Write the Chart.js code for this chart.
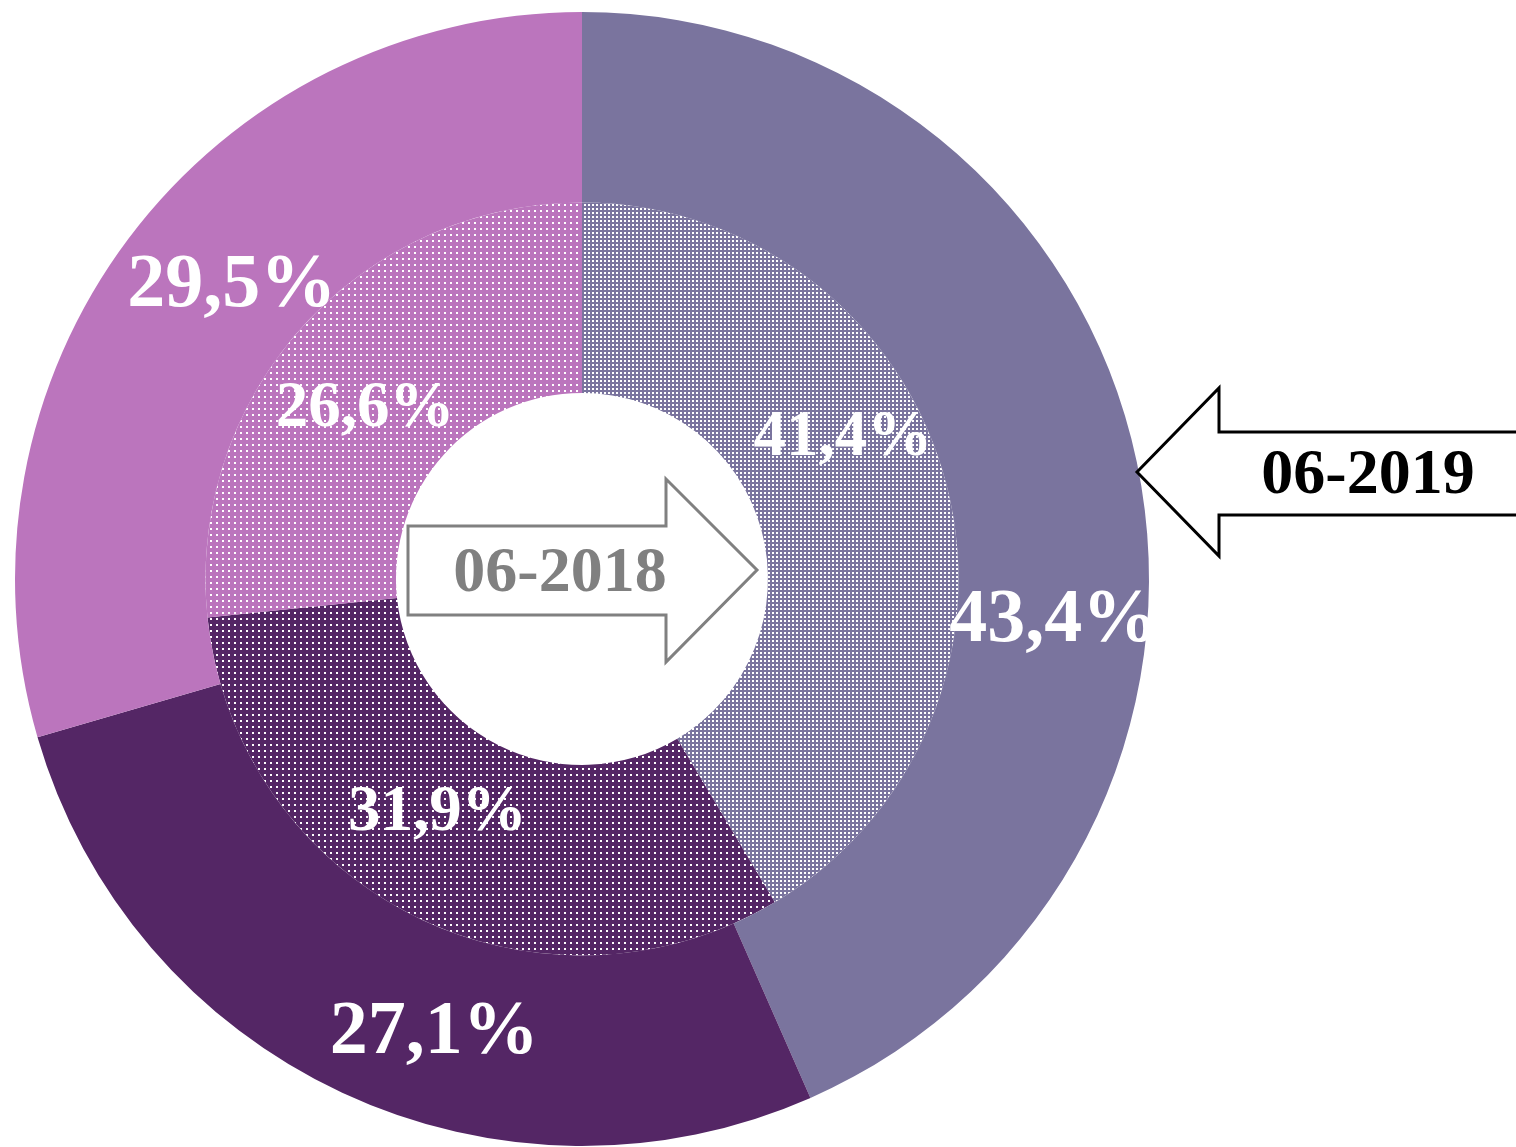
<!DOCTYPE html>
<html>
<head>
<meta charset="utf-8">
<script src="https://cdn.jsdelivr.net/npm/chart.js@4/dist/chart.umd.min.js"></script>
<style>
html,body{margin:0;padding:0;background:#fff;}
#wrap{position:relative;width:1516px;height:1147px;}
</style>
</head>
<body>
<div id="wrap"><canvas id="c" width="1516" height="1147"></canvas></div>
<script>
// ---- data ----
const categories = ['A', 'B', 'C'];
const periods = ['06-2019', '06-2018'];
const values2019 = [43.4, 27.1, 29.5];
const values2018 = [41.4, 31.9, 26.6];
const labels2019 = ['43,4%', '27,1%', '29,5%'];
const labels2018 = ['41,4%', '31,9%', '26,6%'];

// ---- styles ----
const baseColors = ['#7A749E', '#542665', '#BB75BD'];
const FONT = '"Liberation Serif", "Times New Roman", serif';

function dotPattern(color, period, dot) {
  const c = document.createElement('canvas');
  c.width = period; c.height = period;
  const g = c.getContext('2d');
  g.fillStyle = color; g.fillRect(0, 0, period, period);
  g.fillStyle = '#ffffff'; g.fillRect(0, 0, dot, dot);
  return document.getElementById('c').getContext('2d').createPattern(c, 'repeat');
}
const innerFills = [dotPattern(baseColors[0], 4, 2), dotPattern(baseColors[1], 6, 2), dotPattern(baseColors[2], 6, 2)];

// label placement tweaks (angle offset in degrees, radius fraction within ring)
const outerTweak = [{da: 17, rf: 0.51}, {da: -7, rf: 0.53}, {da: 3, rf: 0.42}];
const innerTweak = [{da: -13, rf: 0.58}, {da: 5, rf: 0.47}, {da: -4, rf: 0.47}];

const overlay = {
  id: 'overlay',
  afterDraw(chart) {
    const ctx = chart.ctx;
    const drawLabels = (dsIndex, texts, tweaks, size) => {
      const meta = chart.getDatasetMeta(dsIndex);
      meta.data.forEach((arc, i) => {
        const p = arc.getProps(['x', 'y', 'startAngle', 'endAngle', 'innerRadius', 'outerRadius'], true);
        const a = (p.startAngle + p.endAngle) / 2 + tweaks[i].da * Math.PI / 180;
        const r = p.innerRadius + (p.outerRadius - p.innerRadius) * tweaks[i].rf;
        ctx.save();
        ctx.font = 'bold ' + size + 'px ' + FONT;
        ctx.fillStyle = '#ffffff';
        ctx.textAlign = 'center';
        ctx.textBaseline = 'middle';
        ctx.fillText(texts[i], p.x + Math.cos(a) * r, p.y + Math.sin(a) * r);
        ctx.restore();
      });
    };
    drawLabels(0, labels2019, outerTweak, 76);
    drawLabels(1, labels2018, innerTweak, 65);

    // arrow pointing left (06-2019)
    ctx.save();
    ctx.lineWidth = 3;
    ctx.strokeStyle = '#000000';
    ctx.fillStyle = '#ffffff';
    ctx.beginPath();
    ctx.moveTo(1137, 472);
    ctx.lineTo(1219, 388);
    ctx.lineTo(1219, 432);
    ctx.lineTo(1530, 432);
    ctx.lineTo(1530, 515);
    ctx.lineTo(1219, 515);
    ctx.lineTo(1219, 556);
    ctx.closePath();
    ctx.fill(); ctx.stroke();
    ctx.font = 'bold 64px ' + FONT;
    ctx.fillStyle = '#000000';
    ctx.textAlign = 'center';
    ctx.textBaseline = 'middle';
    ctx.fillText(periods[0], 1368, 476);
    ctx.restore();

    // arrow pointing right (06-2018)
    ctx.save();
    ctx.lineWidth = 3;
    ctx.strokeStyle = '#808080';
    ctx.fillStyle = '#ffffff';
    ctx.beginPath();
    ctx.moveTo(408, 526);
    ctx.lineTo(666, 526);
    ctx.lineTo(666, 479);
    ctx.lineTo(757, 570);
    ctx.lineTo(666, 662);
    ctx.lineTo(666, 615);
    ctx.lineTo(408, 615);
    ctx.closePath();
    ctx.fill(); ctx.stroke();
    ctx.font = 'bold 64px ' + FONT;
    ctx.fillStyle = '#808080';
    ctx.textAlign = 'center';
    ctx.textBaseline = 'middle';
    ctx.fillText(periods[1], 560, 574);
    ctx.restore();
  }
};

new Chart(document.getElementById('c'), {
  type: 'doughnut',
  data: {
    labels: categories,
    datasets: [
      {label: periods[0], data: values2019, backgroundColor: baseColors, borderWidth: 0, hoverOffset: 0},
      {label: periods[1], data: values2018, backgroundColor: innerFills, borderWidth: 0, hoverOffset: 0}
    ]
  },
  options: {
    responsive: false,
    animation: false,
    events: [],
    cutout: '32.8%',
    layout: {padding: {left: 15, top: 12, right: 367, bottom: 1}},
    plugins: {legend: {display: false}, tooltip: {enabled: false}}
  },
  plugins: [overlay]
});
</script>
</body>
</html>
